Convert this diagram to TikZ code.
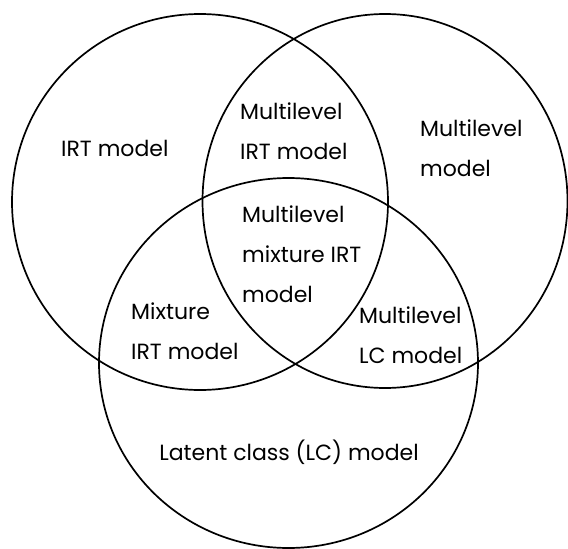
\documentclass[tikz,border=0pt]{standalone}
\usepackage{fontspec}
\setmainfont{Poppins}
\usetikzlibrary{shapes.geometric}

\begin{document}
\begin{tikzpicture}[x=1pt,y=-1pt,
   every set/.style={draw,ellipse,line width=1.7pt,inner sep=0pt,outer sep=0pt},
   every label/.style={align=left,inner sep=0pt,anchor=west,
     font=\fontsize{22}{40}\selectfont}]
\useasboundingbox (0,0) rectangle (568,549);
% the three sets
\node[every set,minimum width=376pt,minimum height=376pt] (irt) at (200,202) {};
\node[every set,minimum width=365pt,minimum height=374pt] (ml) at (385,201) {};
\node[every set,minimum width=379pt,minimum height=370pt] (lc) at (288.5,363) {};
% region labels
\node[every label] (irtlab) at (61,148) {IRT model};
\node[every label] (mlirtlab) at (240,131) {Multilevel\\IRT model};
\node[every label] (mllab) at (420,148) {Multilevel\\model};
\node[every label] (mmirtlab) at (242,254) {Multilevel\\mixture IRT\\model};
\node[every label] (mixlab) at (131,331) {Mixture\\IRT model};
\node[every label] (mlclab) at (359,335) {Multilevel\\LC model};
\node[every label,anchor=center] (lclab) at (289,452) {Latent class (LC) model};
\end{tikzpicture}
\end{document}
